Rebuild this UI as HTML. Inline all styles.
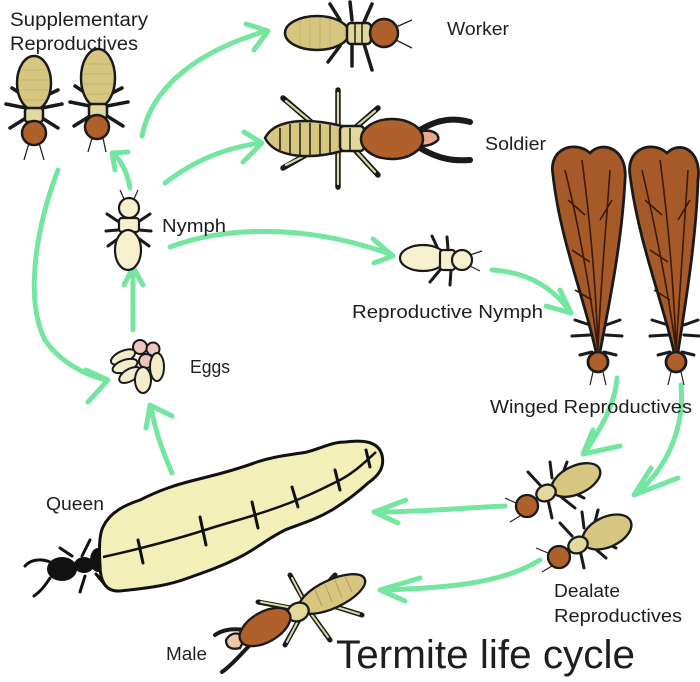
<!DOCTYPE html>
<html><head><meta charset="utf-8"><style>
html,body{margin:0;padding:0;background:#fff;}
svg{display:block;}
text{font-family:"Liberation Sans",sans-serif;fill:#1e1e1e;}
</style></head><body>
<svg width="700" height="682" viewBox="0 0 700 682" xmlns="http://www.w3.org/2000/svg">
<rect width="700" height="682" fill="#fff"/>

<!-- ARROWS -->
<g fill="none" stroke="#74e6a0" stroke-width="5" stroke-linecap="round" stroke-linejoin="round">
  <path d="M142 136 C150 95 185 55 266 31"/>
  <polyline points="246,24 268,31 254,50"/>
  <path d="M165 183 C195 160 225 148 260 143"/>
  <polyline points="244,132 262,143 243,162"/>
  <path d="M130 188 C128 175 122 162 114 154"/>
  <polyline points="128,152 112,153 115,170"/>
  <path d="M170 247 C220 228 300 222 390 254"/>
  <polyline points="373,239 393,256 374,263"/>
  <path d="M492 270 C530 272 555 290 570 312"/>
  <polyline points="560,290 571,313 546,306"/>
  <path d="M133 330 C133 305 133 285 133 268"/>
  <polyline points="124,285 133,267 143,285"/>
  <path d="M58 170 C35 230 25 300 45 340 C60 362 85 375 106 380"/>
  <polyline points="86,370 108,380 88,402"/>
  <path d="M172 473 C162 450 155 430 151 407"/>
  <polyline points="146,428 150,405 172,416"/>
  <path d="M617 378 C615 405 600 430 585 452"/>
  <polyline points="593,430 583,454 620,446"/>
  <path d="M681 385 C685 430 665 470 637 493"/>
  <polyline points="651,468 634,495 678,478"/>
  <path d="M505 506 C460 508 420 512 376 512"/>
  <polyline points="406,500 374,512 398,523"/>
  <path d="M540 560 C500 585 440 588 382 590"/>
  <polyline points="420,578 380,590 405,601"/>
</g>

<!-- SUPPLEMENTARY REPRODUCTIVES -->
<g stroke="#1a1a1a" stroke-linecap="round" fill="none" stroke-width="3.5">
  <path d="M27 98 L12 88 M26 108 L6 104 M26 118 L10 128"/>
  <path d="M41 98 L58 90 M42 108 L62 104 M42 118 L58 128"/>
  <path d="M90 96 L75 86 M90 106 L70 102 M90 116 L74 126"/>
  <path d="M106 96 L122 88 M107 106 L128 102 M107 116 L123 126"/>
</g>
<g stroke="#222" stroke-width="1.3" fill="none">
  <path d="M29 143 L24 160 M39 143 L44 160"/>
  <path d="M92 138 L88 152 M103 138 L106 152"/>
</g>
<g stroke="#1a1a1a" stroke-width="2.5">
  <ellipse cx="34" cy="83" rx="17" ry="27" fill="#d6c680"/>
  <rect x="25" y="108" width="18" height="14" rx="3" fill="#e3d89c"/>
  <circle cx="34" cy="133" r="12" fill="#b0602a"/>
  <ellipse cx="98" cy="78" rx="17" ry="29" fill="#d6c680"/>
  <rect x="89" y="104" width="18" height="14" rx="3" fill="#e3d89c"/>
  <circle cx="97" cy="127" r="12" fill="#b0602a"/>
</g>
<g stroke="#c2b26a" stroke-width="1">
  <path d="M22 70 H46 M20 80 H48 M20 90 H48 M23 100 H45"/>
  <path d="M86 64 H110 M84 74 H112 M84 84 H112 M86 94 H110"/>
</g>

<!-- WORKER -->
<g stroke="#1a1a1a" stroke-linecap="round" fill="none" stroke-width="3.5">
  <path d="M340 20 L330 4 M352 20 L350 2 M364 22 L372 4"/>
  <path d="M340 46 L328 62 M352 46 L352 66 M364 44 L372 70"/>
</g>
<g stroke="#222" stroke-width="1.3" fill="none"><path d="M396 27 L412 20 M396 40 L412 48"/></g>
<g stroke="#1a1a1a" stroke-width="2.5">
  <ellipse cx="317" cy="33" rx="32" ry="17" fill="#d6c680"/>
  <rect x="347" y="23" width="24" height="21" rx="4" fill="#e3d89c"/>
  <circle cx="384" cy="33" r="14" fill="#b0602a"/>
</g>
<g stroke="#c2b26a" stroke-width="1"><path d="M300 20 V46 M310 18 V48 M320 18 V48 M330 19 V47"/></g>
<g stroke="#1a1a1a" stroke-width="1.5"><path d="M355 23 V44 M362 23 V44"/></g>

<!-- SOLDIER -->
<g stroke-linecap="round" fill="none">
  <g stroke="#1a1a1a" stroke-width="5.5">
    <path d="M338 90 L338 187"/>
    <path d="M318 128 L283 98 M318 148 L283 168"/>
    <path d="M355 128 L378 108 M355 150 L378 175"/>
  </g>
  <g stroke="#d9d9a0" stroke-width="2.2">
    <path d="M338 93 L338 184"/>
    <path d="M316 126 L286 101 M316 150 L286 165"/>
    <path d="M357 126 L375 111 M357 152 L375 172"/>
  </g>
</g>
<g stroke="#1a1a1a" stroke-width="2.5">
  <path d="M265 138 C275 118 310 118 342 126 L342 151 C310 160 275 158 265 138 Z" fill="#d6c680"/>
  <rect x="340" y="126" width="24" height="25" rx="4" fill="#e3d89c"/>
  <path d="M420 130 C440 118 455 118 470 122 M420 148 C440 160 455 161 470 160" fill="none" stroke-width="6" stroke-linecap="round"/>
  <path d="M418 132 C432 128 440 134 438 140 C432 146 424 146 418 146 Z" fill="#e8a890"/>
  <ellipse cx="392" cy="139" rx="31" ry="20" fill="#b0602a"/>
</g>
<g stroke="#1a1a1a" stroke-width="1.5"><path d="M280 128 V150 M290 124 V154 M300 123 V155 M310 123 V155 M320 124 V154 M330 125 V153 M350 128 V150"/></g>

<!-- NYMPH -->
<g stroke="#1a1a1a" stroke-linecap="round" fill="none" stroke-width="3">
  <path d="M119 222 L107 214 M118 230 L106 231 M119 238 L108 246"/>
  <path d="M138 222 L150 214 M139 230 L151 231 M138 238 L149 246"/>
</g>
<g stroke="#222" stroke-width="1.2" fill="none"><path d="M124 199 L120 190 M134 199 L138 190"/></g>
<g stroke="#1a1a1a" stroke-width="2.2" fill="#f6f0cf">
  <circle cx="129" cy="208" r="10"/>
  <rect x="119" y="218" width="20" height="14" rx="3"/>
  <ellipse cx="128" cy="250" rx="13" ry="20"/>
</g>

<!-- REPRODUCTIVE NYMPH -->
<g stroke="#1a1a1a" stroke-linecap="round" fill="none" stroke-width="3">
  <path d="M438 249 L432 236 M448 249 L447 237 M440 270 L430 282 M451 270 L450 285"/>
</g>
<g stroke="#222" stroke-width="1.2" fill="none"><path d="M470 255 L482 251 M470 266 L480 271"/></g>
<g stroke="#1a1a1a" stroke-width="2.2" fill="#f6f0cf">
  <ellipse cx="423" cy="258" rx="23" ry="13"/>
  <rect x="440" y="250" width="15" height="20" rx="3"/>
  <circle cx="462" cy="260" r="10"/>
</g>

<!-- WINGED REPRODUCTIVES -->
<g stroke="#1a1a1a" stroke-linecap="round" fill="none" stroke-width="3">
  <path d="M590 325 L575 320 M590 335 L572 336 M606 325 L620 320 M606 335 L622 336 M592 352 L580 355 M604 352 L616 355"/>
  <path d="M668 325 L652 320 M668 335 L650 336 M684 325 L698 320 M684 335 L699 336 M670 352 L658 355 M682 352 L694 355"/>
</g>
<g stroke="#222" stroke-width="1.2" fill="none"><path d="M593 372 L590 385 M603 372 L606 385 M671 372 L668 385 M681 372 L684 385"/></g>
<g stroke="#1a1a1a" stroke-width="2.8" fill="#a65a28">
  <path d="M553 175 C548 148 575 140 590 153 C602 140 628 148 625 180 C622 240 610 300 600 352 L596 352 C585 300 560 240 553 175 Z"/>
  <path d="M630 175 C626 148 652 140 667 153 C680 140 702 150 698 180 C696 240 686 300 678 352 L674 352 C662 300 638 240 630 175 Z"/>
  <circle cx="598" cy="362" r="10" fill="#b0602a"/>
  <circle cx="676" cy="362" r="10" fill="#b0602a"/>
</g>
<g stroke="#3a1a08" stroke-width="1.6" fill="none">
  <path d="M565 170 C580 230 590 290 598 350 M582 160 C590 220 596 290 598 350 M610 170 C606 230 600 290 598 350 M568 200 L585 215 M572 250 L590 262 M575 290 L592 300 M612 200 L600 220"/>
  <path d="M642 170 C656 230 668 290 676 350 M660 160 C668 220 674 290 676 350 M688 170 C684 230 680 290 676 350 M645 200 L662 215 M650 250 L668 262 M654 290 L670 300 M690 200 L678 220"/>
</g>

<!-- EGGS -->
<g stroke="#1a1a1a" stroke-width="2">
  <circle cx="140" cy="347" r="7" fill="#eec4bc"/>
  <circle cx="153" cy="349" r="6.5" fill="#eec4bc"/>
  <circle cx="146" cy="361" r="7" fill="#eec4bc"/>
  <ellipse cx="123" cy="357" rx="13" ry="6" transform="rotate(-25 123 357)" fill="#f3eccb"/>
  <ellipse cx="125" cy="366" rx="13" ry="6" transform="rotate(-20 125 366)" fill="#f3eccb"/>
  <ellipse cx="130" cy="375" rx="12" ry="6" transform="rotate(-30 130 375)" fill="#f3eccb"/>
  <ellipse cx="157" cy="367" rx="7" ry="14" fill="#f3eccb"/>
  <ellipse cx="143" cy="380" rx="8" ry="13" fill="#f3eccb"/>
</g>

<!-- QUEEN -->
<g stroke="#111" stroke-linecap="round" fill="none" stroke-width="3">
  <path d="M82 556 L90 540 M72 556 L60 548 M85 576 L80 592 M96 574 L106 586"/>
  <path d="M50 562 C40 558 30 560 25 566 M50 578 C45 586 40 592 34 596"/>
</g>
<g fill="#111">
  <ellipse cx="62" cy="569" rx="15" ry="12"/>
  <ellipse cx="84" cy="565" rx="10" ry="8"/>
  <ellipse cx="98" cy="560" rx="8" ry="12"/>
</g>
<path d="M103 527 C110 512 125 505 140 500 C160 490 175 485 195 480 C215 475 235 470 257 462 C275 456 290 455 307 452 C322 448 332 442 345 442 C360 440 378 440 382 455 C385 468 378 476 368 483 C355 495 345 502 332 510 C315 520 300 524 285 530 C265 540 255 550 238 558 C220 567 205 572 188 578 C170 585 150 588 120 591 C105 592 100 580 100 565 C99 550 99 535 103 527 Z" fill="#f3efb8" stroke="#111" stroke-width="3"/>
<path d="M103 557 C140 549 180 538 205 530 C230 522 250 517 270 510 C300 500 320 490 340 480 C355 472 365 462 376 452" fill="none" stroke="#111" stroke-width="2.5"/>
<g stroke="#111" stroke-width="3" stroke-linecap="round">
  <path d="M138 540 L143 563 M200 517 L206 545 M252 502 L258 528 M292 487 L298 507 M335 470 L340 490 M366 450 L370 467"/>
</g>

<!-- DEALATES -->
<g stroke="#1a1a1a" stroke-linecap="round" fill="none" stroke-width="3">
  <path d="M540 485 L528 472 M552 478 L550 462 M563 473 L567 462 M548 500 L552 518 M560 496 L575 508 M568 490 L584 498"/>
  <path d="M572 536 L560 523 M584 528 L582 512 M595 522 L598 510 M580 550 L584 568 M592 546 L606 558 M600 540 L616 548"/>
</g>
<g stroke="#222" stroke-width="1.2" fill="none"><path d="M516 503 L505 498 M520 516 L510 522 M548 553 L536 548 M552 566 L542 572"/></g>
<g stroke="#1a1a1a" stroke-width="2.3">
  <ellipse cx="576" cy="480" rx="26" ry="14" transform="rotate(-25 576 480)" fill="#d6c680"/>
  <ellipse cx="546" cy="493" rx="10" ry="8" transform="rotate(-25 546 493)" fill="#e3d89c"/>
  <circle cx="527" cy="506" r="11" fill="#b0602a"/>
  <ellipse cx="607" cy="532" rx="26" ry="15" transform="rotate(-25 607 532)" fill="#d6c680"/>
  <ellipse cx="578" cy="545" rx="10" ry="8" transform="rotate(-25 578 545)" fill="#e3d89c"/>
  <circle cx="559" cy="557" r="11" fill="#b0602a"/>
</g>

<!-- MALE -->
<g stroke-linecap="round" fill="none">
  <g stroke="#1a1a1a" stroke-width="5">
    <path d="M305 602 L290 575 M320 592 L335 575 M296 609 L258 602 M325 598 L345 583 M310 612 L330 640 M300 618 L285 645 M330 605 L362 615"/>
  </g>
  <g stroke="#d9d9a0" stroke-width="2">
    <path d="M303 599 L292 578 M322 590 L333 578 M293 608 L261 602 M327 596 L343 585 M312 615 L328 637 M298 621 L287 642 M333 606 L359 614"/>
  </g>
  <path d="M245 630 C232 628 222 630 215 635 M250 645 C240 655 232 665 222 672" stroke="#1a1a1a" stroke-width="4"/>
</g>
<g stroke="#1a1a1a" stroke-width="2.3">
  <ellipse cx="332" cy="594" rx="36" ry="14" transform="rotate(-25 332 594)" fill="#d6c680"/>
  <ellipse cx="298" cy="612" rx="11" ry="9" transform="rotate(-25 298 612)" fill="#e3d89c"/>
  <path d="M226 640 C232 630 240 634 246 636 L240 648 C232 650 226 648 226 640 Z" fill="#eec8a8"/>
  <ellipse cx="265" cy="627" rx="28" ry="15" transform="rotate(-30 265 627)" fill="#b0602a"/>
</g>
<g stroke="#b59f5a" stroke-width="1"><path d="M315 590 L322 606 M325 584 L332 602 M335 580 L342 598 M345 576 L352 592"/></g>

<!-- LABELS -->
<text x="10" y="26" font-size="19" textLength="138" lengthAdjust="spacingAndGlyphs">Supplementary</text>
<text x="10" y="50" font-size="19" textLength="128" lengthAdjust="spacingAndGlyphs">Reproductives</text>
<text x="447" y="35" font-size="18" textLength="62" lengthAdjust="spacingAndGlyphs">Worker</text>
<text x="485" y="150" font-size="18" textLength="61" lengthAdjust="spacingAndGlyphs">Soldier</text>
<text x="162" y="232" font-size="18" textLength="64" lengthAdjust="spacingAndGlyphs">Nymph</text>
<text x="352" y="318" font-size="18" textLength="191" lengthAdjust="spacingAndGlyphs">Reproductive Nymph</text>
<text x="190" y="373" font-size="18" textLength="40" lengthAdjust="spacingAndGlyphs">Eggs</text>
<text x="490" y="413" font-size="18" textLength="202" lengthAdjust="spacingAndGlyphs">Winged Reproductives</text>
<text x="46" y="510" font-size="18" textLength="58" lengthAdjust="spacingAndGlyphs">Queen</text>
<text x="554" y="597" font-size="18" textLength="66" lengthAdjust="spacingAndGlyphs">Dealate</text>
<text x="554" y="622" font-size="18" textLength="128" lengthAdjust="spacingAndGlyphs">Reproductives</text>
<text x="166" y="660" font-size="18" textLength="41" lengthAdjust="spacingAndGlyphs">Male</text>
<text x="336" y="668" font-size="40" textLength="299" lengthAdjust="spacingAndGlyphs">Termite life cycle</text>
</svg>
</body></html>
